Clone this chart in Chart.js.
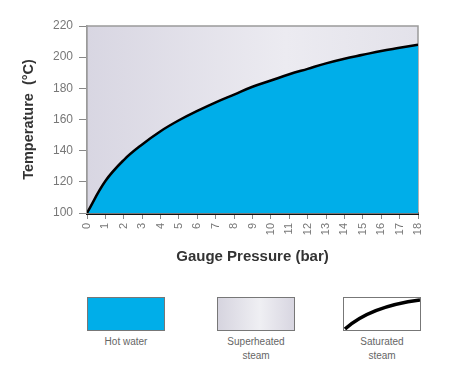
<!DOCTYPE html>
<html>
<head>
<meta charset="utf-8">
<script src="https://cdn.jsdelivr.net/npm/chart.js@4/dist/chart.umd.min.js"></script>
<style>
  html, body { margin: 0; padding: 0; background: #fff; }
  body { width: 450px; height: 377px; overflow: hidden; font-family: "Liberation Sans", Arial, sans-serif; }
  #wrap { position: relative; width: 450px; height: 280px; }
  .legend { position: absolute; top: 297px; left: 0; width: 450px; height: 80px; }
  .item { position: absolute; top: 0; width: 78px; text-align: center; color: #666; font-size: 10px; line-height: 14px; }
  .box { width: 76px; height: 32px; border: 1px solid #777; margin-bottom: 4px; }
  .water { background: #00aee9; }
  .steam { background: linear-gradient(to right, #d6d4df, #efeff3 55%, #d8d6e1); }
  .sat { background: #fff; }
</style>
</head>
<body>
<div id="wrap"><canvas id="chart"></canvas></div>
<div class="legend">
  <div class="item" style="left:87px"><div class="box water"></div>Hot water</div>
  <div class="item" style="left:217px"><div class="box steam"></div>Superheated<br>steam</div>
  <div class="item" style="left:343px"><div class="box sat"><svg width="76" height="32"><path d="M1,31 C20,14 45,6 76,2" stroke="#000" stroke-width="3.5" fill="none"/></svg></div>Saturated<br>steam</div>
</div>
<script>
// gauge pressure (bar) and saturation temperature (°C)
const pressures = [0, 1, 2, 3, 4, 5, 6, 7, 8, 9, 10, 11, 12, 13, 14, 15, 16, 17, 18]
const satTemps = [100, 120.5, 134, 144, 152.5, 159.5, 165.5, 171, 176, 181, 185, 189, 192.5, 196, 199, 201.5, 204, 206, 208]
const tempTicks = [100, 120, 140, 160, 180, 200, 220]

const FONT = '"Liberation Sans", Arial, sans-serif'
const last = pressures.length - 1

// plot background (superheated steam region) + grey frame
const areaBg = {
  id: 'areaBg',
  beforeDatasetsDraw(chart) {
    const { ctx, chartArea: a } = chart
    const g = ctx.createLinearGradient(a.left, 0, a.right, 0)
    g.addColorStop(0, '#d8d6e2')
    g.addColorStop(0.6, '#ecebf1')
    g.addColorStop(1, '#e3e2ea')
    ctx.save()
    ctx.fillStyle = g
    ctx.fillRect(a.left, a.top, a.right - a.left, a.bottom - a.top)
    ctx.strokeStyle = '#9a9a9a'
    ctx.lineWidth = 1.5
    ctx.strokeRect(a.left, a.top, a.right - a.left, a.bottom - a.top)
    ctx.restore()
  }
}

new Chart(document.getElementById('chart'), {
  type: 'line',
  data: {
    datasets: [
      {
        label: 'Saturated steam',
        data: pressures.map((p, i) => ({ x: p, y: satTemps[i] })),
        borderColor: '#000',
        borderWidth: 2.5,
        backgroundColor: '#00aee9',
        fill: 'start',
        pointRadius: 0,
        tension: 0.4,
      },
      {
        label: 'edge',
        data: [{ x: pressures[last], y: satTemps[last] }, { x: pressures[last], y: tempTicks[0] }],
        borderColor: '#111',
        borderWidth: 2.5,
        pointRadius: 0,
        fill: false,
      },
    ],
  },
  options: {
    responsive: true,
    maintainAspectRatio: false,
    animation: false,
    layout: { padding: { left: 20, right: 32, top: 26, bottom: 10 } },
    plugins: { legend: { display: false }, tooltip: { enabled: false } },
    scales: {
      x: {
        type: 'linear',
        min: 0,
        max: 18,
        grid: { display: true, drawOnChartArea: false, drawTicks: true, tickLength: 6, color: '#888' },
        border: { display: true, color: '#111', width: 3 },
        ticks: {
          stepSize: 1,
          autoSkip: false,
          minRotation: 90,
          maxRotation: 90,
          padding: 4,
          color: '#777',
          font: { family: FONT, size: 11 },
        },
        title: {
          display: true,
          text: 'Gauge Pressure (bar)',
          color: '#333',
          font: { family: FONT, size: 15, weight: 'bold' },
          padding: { top: 6, bottom: 4 },
        },
        afterFit: (s) => { s.height = 57 },
      },
      y: {
        min: 100,
        max: 220,
        afterBuildTicks: (s) => { s.ticks = tempTicks.map((v) => ({ value: v })) },
        grid: { display: true, drawOnChartArea: false, drawTicks: true, tickLength: 8, color: '#888' },
        border: { display: true, color: '#9a9a9a', width: 1.5 },
        ticks: {
          padding: 6,
          color: '#777',
          font: { family: FONT, size: 12 },
        },
        title: {
          display: true,
          text: 'Temperature  (°C)',
          color: '#333',
          font: { family: FONT, size: 14.5, weight: 'bold' },
          padding: { top: 0, bottom: 4 },
        },
        afterFit: (s) => { s.width = 67 },
      },
    },
  },
  plugins: [areaBg],
})
</script>
</body>
</html>
